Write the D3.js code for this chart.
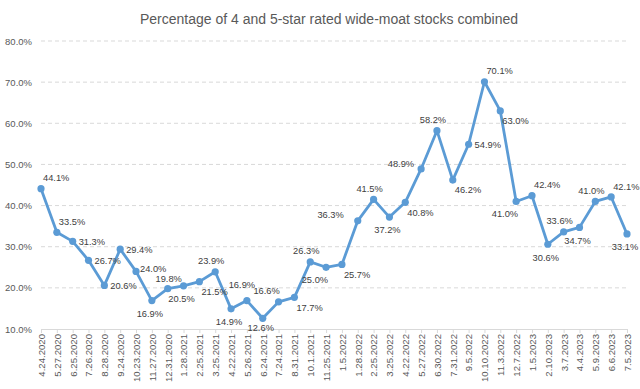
<!DOCTYPE html>
<meta charset="utf-8">
<style>
  body { margin: 0; background: #fff; }
  text { font-family: "Liberation Sans", Arial, sans-serif; }
  .line { fill: none; stroke: #5b9bd5; stroke-width: 2.8px; stroke-linejoin: round; }
  .grid line { stroke: #d9d9d9; stroke-dasharray: 4,3; }
</style>
<body>
<script src="https://d3js.org/d3.v7.min.js"></script>
<script>
// dates of each observation
var dates = ["4.24.2020", "5.27.2020", "6.25.2020", "7.26.2020", "8.28.2020", "9.24.2020",
  "10.23.2020", "11.27.2020", "12.31.2020", "1.28.2021", "2.25.2021", "3.25.2021",
  "4.22.2021", "5.26.2021", "6.24.2021", "7.24.2021", "8.31.2021", "10.1.2021",
  "11.25.2021", "1.5.2022", "1.28.2022", "2.25.2022", "3.25.2022", "4.22.2022",
  "5.27.2022", "6.30.2022", "7.31.2022", "9.5.2022", "10.10.2022", "11.3.2022",
  "12.7.2022", "1.5.2023", "2.10.2023", "3.7.2023", "4.4.2023", "5.9.2023",
  "6.6.2023", "7.5.2023"];

// percentage of 4 and 5-star wide-moat stocks
var pct = [44.1, 33.5, 31.3, 26.7, 20.6, 29.4, 24.0, 16.9, 19.8, 20.5, 21.5, 23.9,
  14.9, 16.9, 12.6, 16.6, 17.7, 26.3, 25.0, 25.7, 36.3, 41.5, 37.2, 40.8,
  48.9, 58.2, 46.2, 54.9, 70.1, 63.0, 41.0, 42.4, 30.6, 33.6, 34.7, 41.0,
  42.1, 33.1];

// where each data label sits relative to its point
var labelPos = ["tr", "tr", "r", "r", "r", "r", "ru", "b", "tc", "b", "br", "t",
  "b", "tt", "bn", "tl", "br", "t", "bl", "br", "ll", "t", "b", "br",
  "l", "t", "br", "r", "tr", "br", "bl", "tr", "b", "t", "b", "t",
  "tr", "b"];

var yTicks = [10, 20, 30, 40, 50, 60, 70, 80];

var W = 640, H = 389;
var margin = { top: 41, right: 13, bottom: 60, left: 41 };

var svg = d3.select("body").append("svg")
  .attr("width", W)
  .attr("height", H);

var x = d3.scalePoint().domain(dates).range([margin.left, W - margin.right]);
var y = d3.scaleLinear().domain([10, 80]).range([H - margin.bottom, margin.top]);

// title
svg.append("text")
  .attr("x", 329)
  .attr("y", 24)
  .attr("text-anchor", "middle")
  .style("font-size", "14px")
  .style("fill", "#595959")
  .text("Percentage of 4 and 5-star rated wide-moat stocks combined");

// gridlines
svg.append("g")
  .attr("class", "grid")
  .selectAll("line")
  .data(yTicks.slice(1))
  .enter().append("line")
  .attr("x1", margin.left)
  .attr("x2", W - margin.right + 1)
  .attr("y1", function(d) { return y(d); })
  .attr("y2", function(d) { return y(d); });

// y axis labels
var yAxis = svg.append("g")
  .attr("transform", "translate(" + margin.left + ",0)")
  .call(d3.axisLeft(y).tickValues(yTicks).tickSize(0).tickPadding(9)
    .tickFormat(function(d) { return d.toFixed(1) + "%"; }));
yAxis.select(".domain").remove();
yAxis.selectAll("text")
  .style("font-size", "9.5px")
  .style("fill", "#595959");

// x axis
var xAxis = svg.append("g")
  .attr("transform", "translate(0," + y(10) + ")")
  .call(d3.axisBottom(x).tickSize(4).tickSizeOuter(0).tickPadding(3));
xAxis.select(".domain").attr("stroke", "#d9d9d9");
xAxis.selectAll(".tick line").attr("stroke", "#d9d9d9");
xAxis.selectAll("text")
  .style("font-size", "9.6px")
  .style("fill", "#595959")
  .attr("transform", "rotate(-90)")
  .attr("text-anchor", "end")
  .attr("x", -5)
  .attr("y", 0)
  .attr("dy", "0.35em");

// line
var line = d3.line()
  .x(function(d, i) { return x(dates[i]); })
  .y(function(d) { return y(d); });

svg.append("path")
  .datum(pct)
  .attr("class", "line")
  .attr("d", line);

// markers
svg.selectAll(".dot")
  .data(pct)
  .enter().append("circle")
  .attr("class", "dot")
  .attr("cx", function(d, i) { return x(dates[i]); })
  .attr("cy", function(d) { return y(d); })
  .attr("r", 3.6)
  .style("fill", "#5b9bd5");

// data labels: [dx, dy, anchor]
var offsets = {
  t:  [-4, -11, "middle"],
  tc: [1, -9.5, "middle"],
  tt: [-5, -16, "middle"],
  b:  [-2, 13, "middle"],
  bn: [-2, 9, "middle"],
  r:  [6, 0.5, "start"],
  ru: [4, -3, "start"],
  l:  [-7, -5, "end"],
  ll: [-14, -6, "end"],
  tr: [2, -10.5, "start"],
  tl: [-12, -11, "middle"],
  br: [2, 10, "start"],
  bl: [2, 12, "end"]
};

svg.selectAll(".lbl")
  .data(pct)
  .enter().append("text")
  .attr("class", "lbl")
  .attr("x", function(d, i) { return x(dates[i]) + offsets[labelPos[i]][0]; })
  .attr("y", function(d, i) { return y(d) + offsets[labelPos[i]][1]; })
  .attr("dy", "0.35em")
  .attr("text-anchor", function(d, i) { return offsets[labelPos[i]][2]; })
  .style("font-size", "9.3px")
  .style("fill", "#404040")
  .text(function(d) { return d.toFixed(1) + "%"; });
</script>
</body>
